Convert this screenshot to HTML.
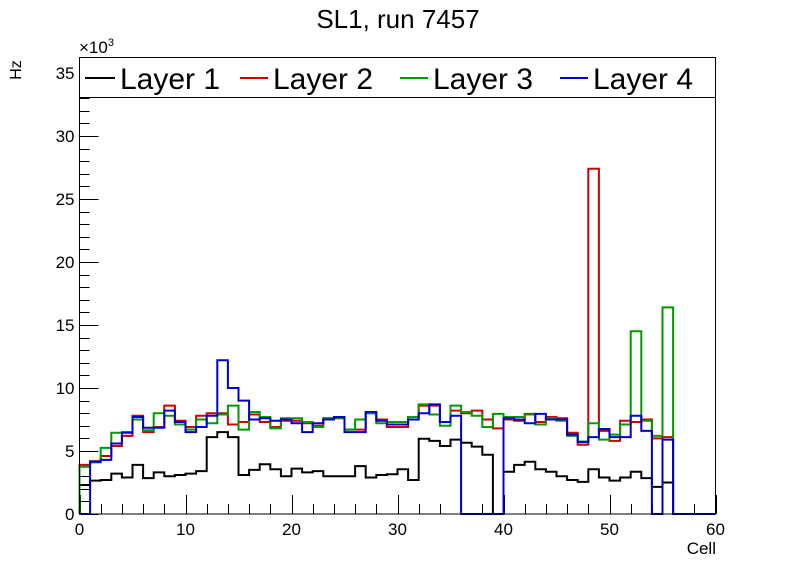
<!DOCTYPE html>
<html><head><meta charset="utf-8"><style>
body{margin:0;background:#fff;}
svg{display:block;font-family:"Liberation Sans",sans-serif;}
</style></head><body>
<svg id="chart" width="796" height="572" viewBox="0 0 796 572" xmlns="http://www.w3.org/2000/svg">
<rect x="0" y="0" width="796" height="572" fill="#fff"/>
<text x="398" y="28" font-size="26" text-anchor="middle">SL1, run 7457</text>
<text transform="translate(21,70) rotate(-90)" font-size="16" text-anchor="middle">Hz</text>
<text x="79" y="53" font-size="17">×10<tspan font-size="11" dy="-7">3</tspan></text>
<text x="716" y="554" font-size="17" text-anchor="end">Cell</text>
<g id="ticks"></g>
<g id="series"></g>
<rect x="79.5" y="57.5" width="636" height="456.5" fill="none" stroke="#000" stroke-width="1"/>
<g>
<rect x="79.5" y="57.5" width="636" height="40" fill="#fff" stroke="#000" stroke-width="1"/>
<g><line x1="85" y1="78" x2="115" y2="78" stroke="#000" stroke-width="2"/><text x="120" y="89" font-size="30">Layer 1</text></g>
<g><line x1="240" y1="78" x2="268" y2="78" stroke="#cc0000" stroke-width="2"/><text x="273" y="89" font-size="30">Layer 2</text></g>
<g><line x1="400" y1="78" x2="428" y2="78" stroke="#009900" stroke-width="2"/><text x="433" y="89" font-size="30">Layer 3</text></g>
<g><line x1="560" y1="78" x2="588" y2="78" stroke="#0000cc" stroke-width="2"/><text x="593" y="89" font-size="30">Layer 4</text></g>
</g>
</svg>
<script>
const layer1 = [2.3,2.65,2.7,3.2,2.9,3.9,2.85,3.3,3.0,3.1,3.2,3.4,6.1,6.5,6.1,3.1,3.5,3.95,3.55,3.0,3.6,3.3,3.4,3.0,3.0,3.0,3.8,2.9,3.1,3.15,3.55,2.7,5.97,5.8,5.4,5.9,5.65,5.35,4.7,0,3.35,3.9,4.15,3.55,3.35,3.0,2.7,2.55,3.55,2.9,2.65,2.9,3.35,2.85,2.15,2.5,0,0,0,0];
const layer2 = [3.9,4.2,4.6,5.4,6.2,7.8,6.5,6.9,8.6,7.4,6.9,7.8,8.0,8.0,7.1,7.3,7.9,7.3,6.9,7.4,7.4,7.2,7.0,7.6,7.6,6.7,6.7,8.0,7.5,6.9,6.9,7.7,8.6,8.6,7.3,8.2,8.0,8.2,7.5,6.8,7.5,7.4,7.95,7.3,7.7,7.6,6.45,5.5,27.4,6.6,5.8,7.4,7.3,7.5,6.0,6.1,0,0,0,0];
const layer3 = [3.75,4.1,5.25,6.45,6.5,7.5,6.65,8.0,7.8,7.1,6.7,7.5,7.2,7.9,8.6,6.7,8.1,7.7,6.8,7.6,7.6,7.3,6.9,7.6,7.6,6.7,7.5,8.0,7.2,7.3,7.3,7.7,8.7,7.9,7.0,8.6,8.1,7.8,6.9,7.95,7.7,7.7,7.9,7.1,7.6,7.4,6.2,5.75,7.2,5.9,6.3,7.1,14.5,7.4,6.2,16.4,0,0,0,0];
const layer4 = [0,4.15,4.3,5.6,6.45,7.7,6.85,6.85,8.2,7.3,6.5,6.9,7.8,12.2,10.0,9.0,7.5,7.6,7.4,7.5,7.2,6.5,7.2,7.5,7.7,6.5,6.5,8.1,7.4,7.1,7.1,7.5,8.0,8.7,7.3,7.8,0,0,0,0,7.6,7.5,7.2,7.95,7.5,7.5,6.3,5.7,6.1,6.75,6.1,6.1,7.8,6.6,0,5.9,0,0,0,0];
const yTickLabels = ["0","5","10","15","20","25","30","35"];
const xTickLabels = ["0","10","20","30","40","50","60"];
const X0=79.5, X1=715.5, Y0=514, YPER=12.6;
function xs(c){return X0+(X1-X0)*c/60;}
function ys(v){return Y0-v*YPER;}
const NS="http://www.w3.org/2000/svg";
const tk=document.getElementById('ticks');
function ln(x1,y1,x2,y2){const l=document.createElementNS(NS,'line');l.setAttribute('x1',x1);l.setAttribute('y1',y1);l.setAttribute('x2',x2);l.setAttribute('y2',y2);l.setAttribute('stroke','#000');l.setAttribute('stroke-width','1');


tk.appendChild(l);}
for(let v=0;v<=36;v++){const y=Math.round(ys(v))+0.5;ln(X0,y,X0+(v%5==0?19:10),y);}
yTickLabels.forEach((s,i)=>{const t=document.createElementNS(NS,'text');t.setAttribute('x',X0-5);t.setAttribute('y',ys(+s)+6);t.setAttribute('font-size','17');t.setAttribute('text-anchor','end');t.textContent=s;


tk.appendChild(t);});
for(let c=0;c<=60;c+=2){const x=Math.round(xs(c))+0.5;ln(x,Y0,x,Y0-(c%10==0?19:10));}
xTickLabels.forEach(s=>{const t=document.createElementNS(NS,'text');t.setAttribute('x',xs(+s));t.setAttribute('y',535);t.setAttribute('font-size','17');t.setAttribute('text-anchor','middle');t.textContent=s;


tk.appendChild(t);});
const sg=document.getElementById('series');
function step(data,color,name){let d='M'+xs(0)+','+ys(0);data.forEach((v,i)=>{d+=' L'+xs(i)+','+ys(v)+' L'+xs(i+1)+','+ys(v);});
const p=document.createElementNS(NS,'path');p.setAttribute('d',d);p.setAttribute('fill','none');p.setAttribute('stroke',color);p.setAttribute('stroke-width','2');


sg.appendChild(p);}
step(layer1,'#000','layer-1-histogram');
step(layer2,'#cc0000','layer-2-histogram');
step(layer3,'#009900','layer-3-histogram');
step(layer4,'#0000cc','layer-4-histogram');
</script>
</body></html>
